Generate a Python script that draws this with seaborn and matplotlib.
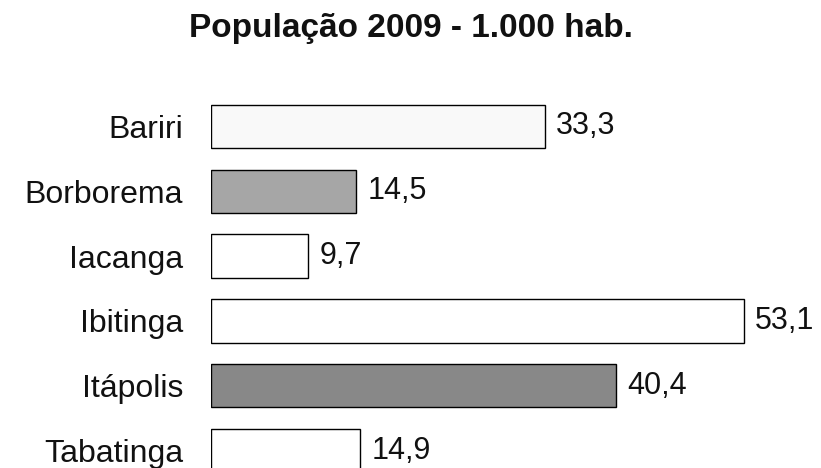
import matplotlib
matplotlib.use("Agg")
import matplotlib.pyplot as plt
import seaborn as sns
import pandas as pd

cities = ["Bariri", "Borborema", "Iacanga", "Ibitinga", "Itápolis", "Tabatinga"]
population = [33.3, 14.5, 9.7, 53.1, 40.4, 14.9]
fill_colors = ["#f9f9f9", "#a6a6a6", "#ffffff", "#ffffff", "#888888", "#ffffff"]

sns.set_style("white")
plt.rcParams["font.family"] = ["Liberation Sans", "DejaVu Sans"]

df = pd.DataFrame({"city": cities, "pop": population})

fig = plt.figure(figsize=(8.21, 4.68), dpi=100)
ax = fig.add_axes([211 / 821, 0.0, 602 / 821, 1 - 90 / 468])

sns.barplot(data=df, y="city", x="pop", hue="city", palette=fill_colors,
            orient="h", width=0.67, edgecolor="black", linewidth=1.0,
            legend=False, ax=ax)

ax.set_xlim(0, 60)
ax.set_ylim(5.27, -0.563)

for cont in ax.containers:
    ax.bar_label(cont, labels=[f"{v:.1f}".replace(".", ",") for v in cont.datavalues],
                 padding=8, fontsize=22, color="#111111")

ax.set_xlabel("")
ax.set_ylabel("")
ax.set_xticks([])
ax.tick_params(axis="y", length=0, pad=20, labelsize=23, labelcolor="#111111")
sns.despine(ax=ax, left=True, bottom=True)

fig.text(0.5, 1 - 37 / 468, "População 2009 - 1.000 hab.", ha="center",
         va="baseline", fontsize=24, fontweight="bold", color="#111111")

fig.savefig("out.png", dpi=100, facecolor="white")
